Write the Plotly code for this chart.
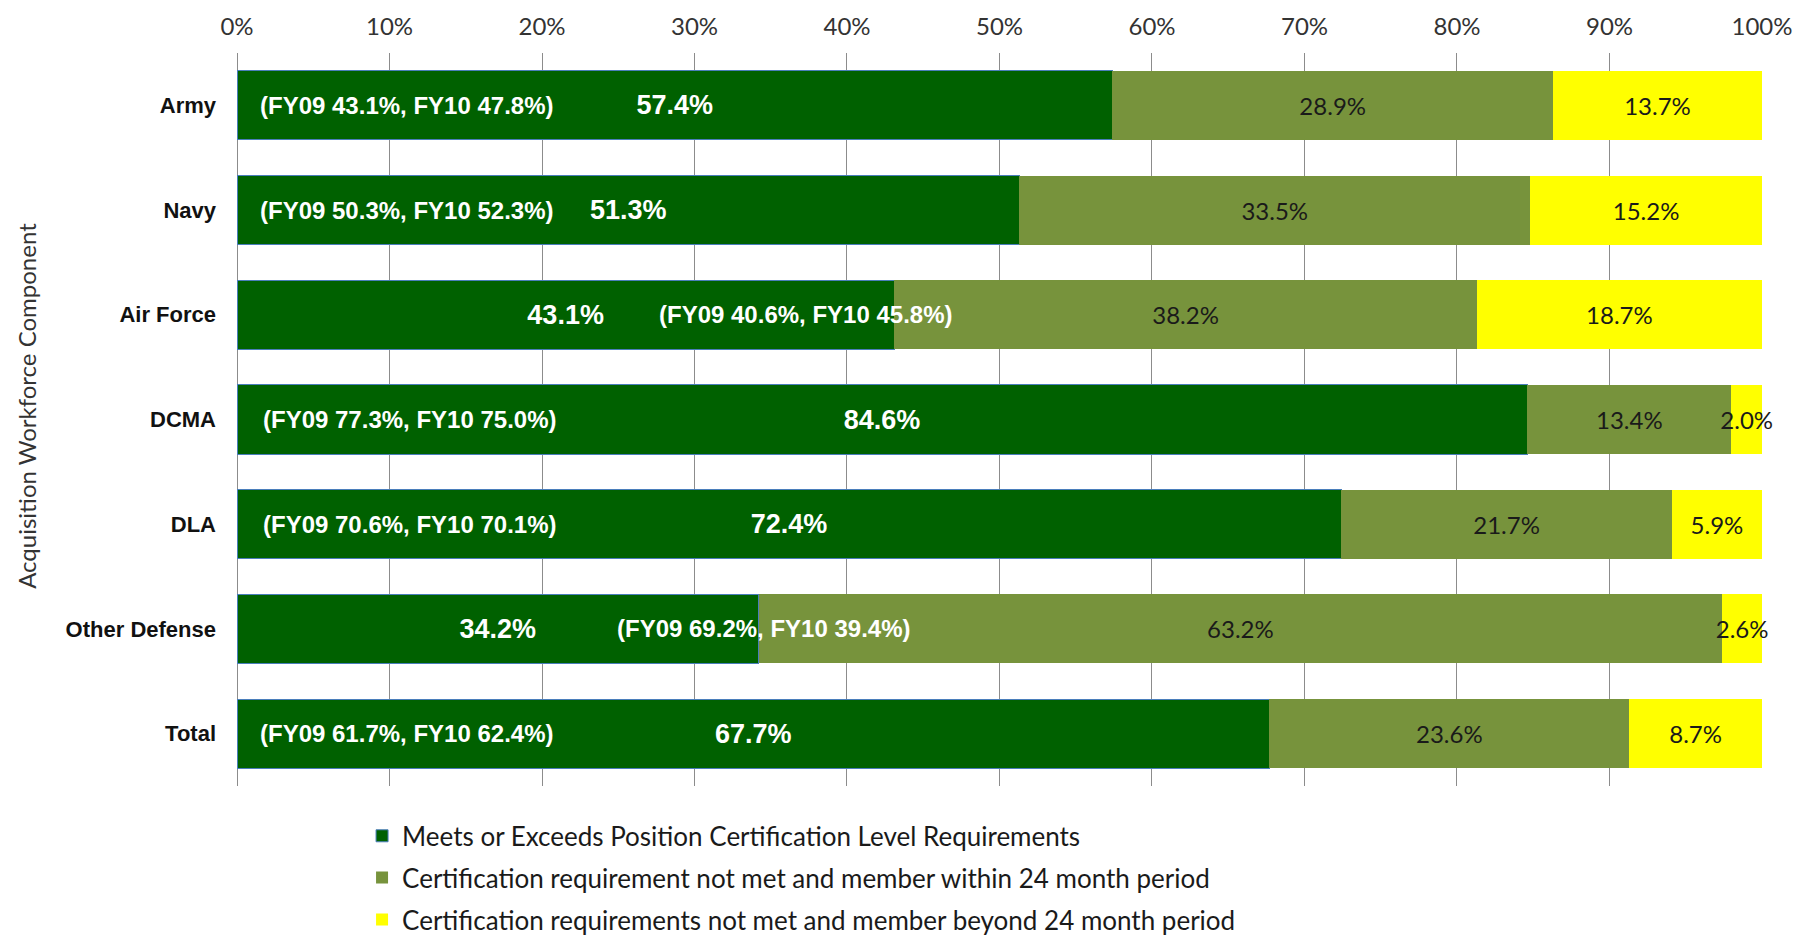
import plotly.graph_objects as go

categories = ["Army", "Navy", "Air Force", "DCMA", "DLA", "Other Defense", "Total"]
meets = [57.4, 51.3, 43.1, 84.6, 72.4, 34.2, 67.7]
within24 = [28.9, 33.5, 38.2, 13.4, 21.7, 63.2, 23.6]
beyond24 = [13.7, 15.2, 18.7, 2.0, 5.9, 2.6, 8.7]
history = ["(FY09 43.1%, FY10 47.8%)", "(FY09 50.3%, FY10 52.3%)", "(FY09 40.6%, FY10 45.8%)",
           "(FY09 77.3%, FY10 75.0%)", "(FY09 70.6%, FY10 70.1%)", "(FY09 69.2%, FY10 39.4%)",
           "(FY09 61.7%, FY10 62.4%)"]
series_names = ["Meets or Exceeds Position Certification Level Requirements",
                "Certification requirement not met and member within 24 month period",
                "Certification requirements not met and member beyond 24 month period"]
tick_vals = [0, 10, 20, 30, 40, 50, 60, 70, 80, 90, 100]
tick_text = [f"{v}%" for v in tick_vals]

# annotation placement for history labels (x position, anchor)
hist_x = [1.4, 1.4, 37.3, 1.6, 1.6, 34.5, 1.4]
hist_anchor = ["left", "left", "center", "left", "left", "center", "left"]

REG = "Lato, 'Open Sans', sans-serif"
BOLD = "'Liberation Sans Narrow', 'Arial Narrow', 'Liberation Sans', Arial, sans-serif"

fig = go.Figure()
fig.add_trace(go.Bar(
    y=categories, x=meets, orientation="h", name=series_names[0],
    marker=dict(color="#006100", line=dict(color="#4a7ebb", width=1)),
    texttemplate="%{x:.1f}%", textposition="inside", insidetextanchor="middle", textangle=0,
    textfont=dict(family=BOLD, size=27, color="white", weight="bold"),
    constraintext="none", cliponaxis=False, legendgroup="a"))
fig.add_trace(go.Bar(
    y=categories, x=within24, orientation="h", name=series_names[1],
    marker=dict(color="#77933c", line=dict(width=0)),
    texttemplate="%{x:.1f}%", textposition="inside", insidetextanchor="middle", textangle=0,
    textfont=dict(family=REG, size=24, color="#1a1a1a"),
    constraintext="none", cliponaxis=False, legendgroup="b"))
fig.add_trace(go.Bar(
    y=categories, x=beyond24, orientation="h", name=series_names[2],
    marker=dict(color="#ffff00", line=dict(width=0)),
    texttemplate="%{x:.1f}%", textposition="inside", insidetextanchor="middle", textangle=0,
    textfont=dict(family=REG, size=24, color="#1a1a1a"),
    constraintext="none", cliponaxis=False, legendgroup="c"))

for cat, txt, hx, anc in zip(categories, history, hist_x, hist_anchor):
    fig.add_annotation(x=hx, y=cat, xref="x", yref="y", text=txt, showarrow=False,
                       xanchor=anc, yanchor="middle",
                       font=dict(family=BOLD, size=24, color="white", weight="bold"))

fig.add_annotation(x=-0.138, y=0.518, xref="paper", yref="paper", textangle=-90,
                   xanchor="center", yanchor="middle",
                   text="Acquisition Workforce Component", showarrow=False,
                   font=dict(family=REG, size=24, color="#333333"))

fig.update_layout(
    width=1794, height=927,
    barmode="stack", bargap=0.34,
    plot_bgcolor="white", paper_bgcolor="white",
    margin=dict(l=229, r=40, t=45, b=149, autoexpand=False),
    uniformtext=dict(mode=False),
    xaxis=dict(side="top", range=[0, 100.001], tickvals=tick_vals, ticktext=tick_text,
               showgrid=True, gridcolor="#8c8c8c", gridwidth=1,
               zeroline=True, zerolinecolor="#8c8c8c", zerolinewidth=1,
               showline=False, ticks="", ticklabelstandoff=12, automargin=False,
               tickfont=dict(family=REG, size=24, color="#333333")),
    yaxis=dict(autorange="reversed", showgrid=False, showline=False, ticks="",
               ticklabelstandoff=20, automargin=False,
               tickfont=dict(family=BOLD, size=22, color="#111111", weight="bold")),
    legend=dict(orientation="v", x=0.082, y=-0.036, xanchor="left", yanchor="top",
                traceorder="grouped", tracegroupgap=5,
                font=dict(family=REG, size=26, color="#1a1a1a")),
    showlegend=True,
)

fig.write_html("out.html")
